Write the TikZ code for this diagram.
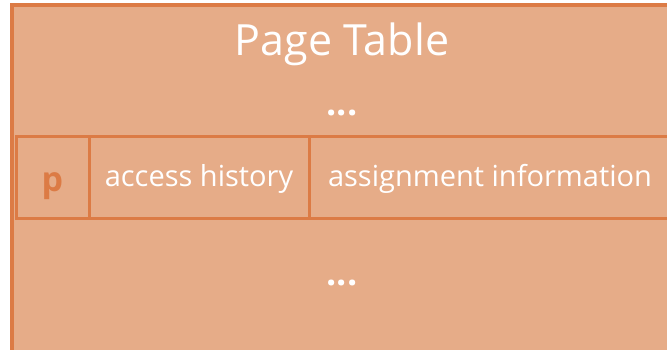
\documentclass[tikz,border=0pt]{standalone}
\usepackage{fontspec}
\setmainfont{Open Sans}
\usetikzlibrary{positioning}
\definecolor{tablefill}{HTML}{E6AC88}
\definecolor{tableline}{HTML}{DC7B45}
\tikzset{
  table frame/.style={line width=4pt, draw=tableline, fill=tablefill},
  entry cell/.style={draw=tableline, line width=3pt, minimum height=81pt, inner sep=0pt,
    outer sep=0pt, text height=24pt, text depth=6pt,
    text=white, font=\fontsize{29}{32}\selectfont},
  key cell/.style={entry cell, text height=29pt, text depth=1pt,
    text=tableline, font=\fontsize{34}{36}\selectfont\bfseries},
  dots label/.style={text=white, anchor=base, font=\fontsize{36}{38}\selectfont\bfseries},
}

\begin{document}
\begin{tikzpicture}[x=1pt, y=-1pt]
  \useasboundingbox (0,0) rectangle (667,350);
  % outer frame runs off the right and bottom edges
  \draw[table frame] (12,5) rectangle (700,380);
  \node[text=white, anchor=base, font=\fontsize{43}{46}\selectfont] (title) at (342,56) {Page Table};
  \node[dots label] (topdots) at (342,116) {...};
  % one entry of the table
  \node[key cell, minimum width=73pt, anchor=west] (p) at (16,177.5) {p};
  \node[entry cell, minimum width=220pt, right=0pt of p] (access) {access history};
  \node[entry cell, minimum width=362pt, right=0pt of access] (assign) {assignment information};
  \node[dots label] (bottomdots) at (342,285) {...};
\end{tikzpicture}
\end{document}
